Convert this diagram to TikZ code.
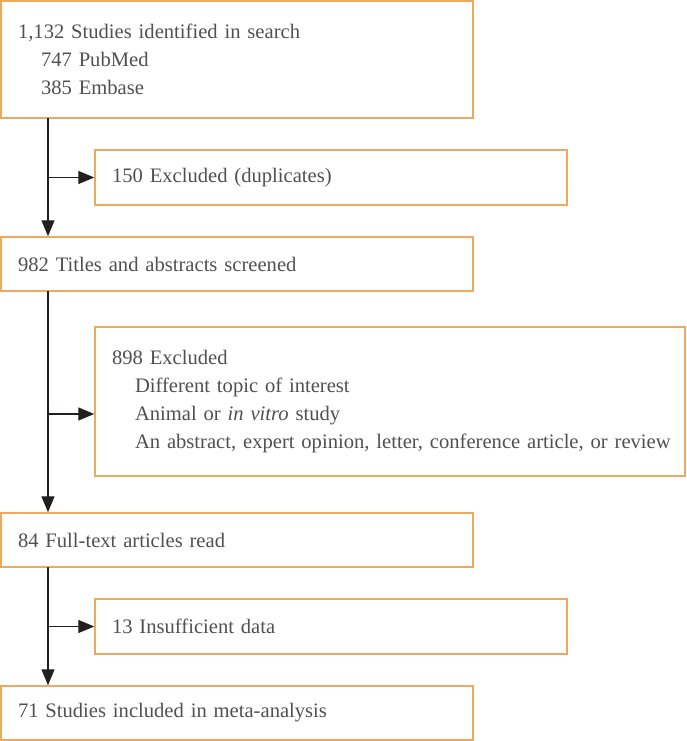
\documentclass[tikz,border=0pt]{standalone}
\usepackage{fontspec}
\setmainfont{Liberation Serif}
\usetikzlibrary{arrows.meta}
\definecolor{boxorange}{RGB}{239,168,96}
\definecolor{txtgray}{RGB}{80,80,80}
\definecolor{arrowdark}{RGB}{35,31,32}
\hfuzz=50pt
\begin{document}
\begin{tikzpicture}[x=1pt,y=1pt,
  flowbox/.style={draw=boxorange,line width=1.5pt,rectangle,inner xsep=17pt,inner ysep=0pt,
    align=left,text=txtgray,font=\fontsize{20.6}{28}\selectfont,anchor=center},
  conn/.style={draw=arrowdark,line width=1.3pt,-{Triangle[length=16pt,width=13pt]}}]
\useasboundingbox (0,0) rectangle (686,-741);
\node[flowbox,text width=438pt,minimum height=117pt] (b1) at (237,-59.5)
  {1,132 Studies identified in search\\\hspace*{23pt}747 PubMed\\\hspace*{23pt}385 Embase};
\node[flowbox,text width=438pt,minimum height=55pt] (b2) at (331,-177.5)
  {150 Excluded (duplicates)};
\node[flowbox,text width=438pt,minimum height=54pt] (b3) at (237,-264)
  {982 Titles and abstracts screened};
\node[flowbox,text width=556pt,minimum height=149pt] (b4) at (390,-401.5)
  {898 Excluded\\\hspace*{23pt}Different topic of interest\\\hspace*{23pt}Animal or \textit{in vitro} study\\\mbox{\hspace*{23pt}An abstract, expert opinion, letter, conference article, or review}};
\node[flowbox,text width=438pt,minimum height=54pt] (b5) at (237,-540)
  {84 Full-text articles read};
\node[flowbox,text width=438pt,minimum height=55pt] (b6) at (331,-626.5)
  {13 Insufficient data};
\node[flowbox,text width=438pt,minimum height=54pt] (b7) at (237,-713)
  {71 Studies included in meta-analysis};
\coordinate (t1) at (48,-118.5);
\coordinate (t3s) at (48,-291);
\coordinate (t5s) at (48,-567);
\coordinate (j2) at (48,-177.5);
\coordinate (j4) at (48,-414);
\coordinate (j6) at (48,-626.5);
\draw[conn] (t1) -- (b3.north -| t1);
\draw[conn] (t3s) -- (b5.north -| t3s);
\draw[conn] (t5s) -- (b7.north -| t5s);
\draw[conn] (j2) -- (b2.west |- j2);
\draw[conn] (j4) -- (b4.west |- j4);
\draw[conn] (j6) -- (b6.west |- j6);
\end{tikzpicture}
\end{document}
